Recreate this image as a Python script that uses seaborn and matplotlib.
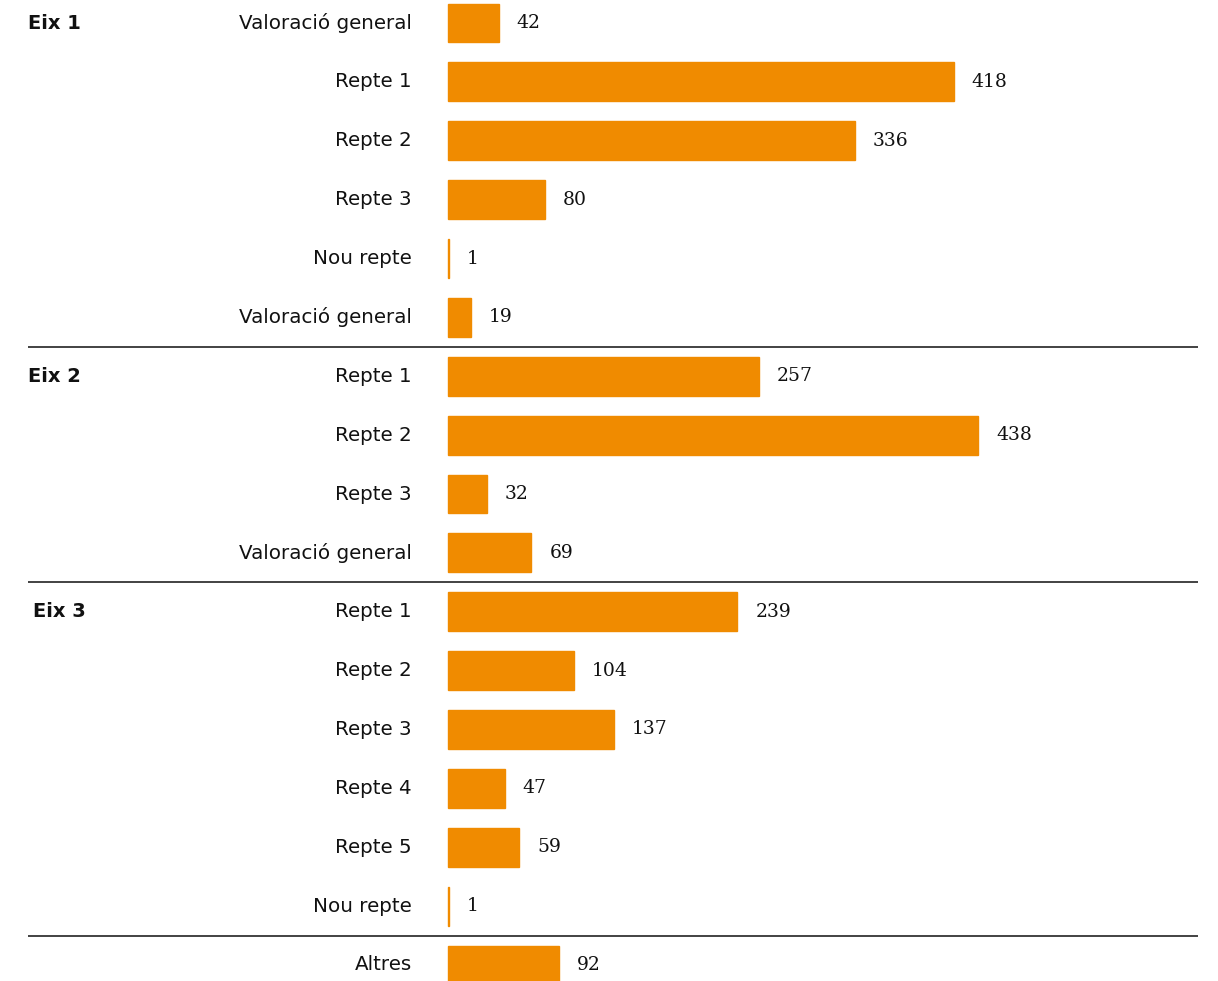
import matplotlib
matplotlib.use("Agg")
import matplotlib.pyplot as plt
import matplotlib.transforms as mtransforms
import seaborn as sns
import pandas as pd

categories = ["Valoració general", "Repte 1", "Repte 2", "Repte 3", "Nou repte",
              "Valoració general", "Repte 1", "Repte 2", "Repte 3",
              "Valoració general", "Repte 1", "Repte 2", "Repte 3", "Repte 4", "Repte 5", "Nou repte",
              "Altres"]
values = [42, 418, 336, 80, 1,
          19, 257, 438, 32,
          69, 239, 104, 137, 47, 59, 1,
          92]
group_labels = ["Eix 1", "Eix 2", "Eix 3"]
group_rows = [0, 6, 10]
separators_after = [5, 9, 15]

BAR = "#F08B00"

sns.set_theme(style="white")
plt.rcParams["font.family"] = ["DejaVu Sans"]

W, H = 1218, 981
fig = plt.figure(figsize=(W / 100, H / 100), dpi=100)
ax = fig.add_axes([0, 0, 1, 1])

rows = [str(i) for i in range(len(values))]
df = pd.DataFrame({"row": rows, "value": values})
sns.barplot(data=df, x="value", y="row", order=rows, orient="h",
            color=BAR, saturation=1, width=0.66, ax=ax,
            edgecolor=BAR, linewidth=1.0)

# scale: x=0 at 448 px, 438 -> ~979 px
ppu = (978 - 448) / 438.0
x0 = -448 / ppu
x1 = (W - 448) / ppu
ax.set_xlim(x0, x1)
n = len(values)
sp = (965 - 23) / (n - 1)
ax.set_ylim(n - 1 + (H - 965) / sp, -23 / sp)
ax.axis("off")

lab_tr = mtransforms.offset_copy(ax.transData, fig=fig, x=-36, y=0, units="dots")
val_tr = mtransforms.offset_copy(ax.transData, fig=fig, x=18, y=0, units="dots")
for i, (c, v) in enumerate(zip(categories, values)):
    ax.text(0, i, c, transform=lab_tr, ha="right", va="center",
            fontsize=14.3, color="#111111")
    ax.text(v, i, str(v), transform=val_tr, ha="left", va="center",
            fontsize=13.5, family="DejaVu Serif", color="#111111")

gtr = mtransforms.blended_transform_factory(ax.transAxes, ax.transData)
gx = [28, 28, 33]
for g, r, x in zip(group_labels, group_rows, gx):
    ax.text(x / W, r, g, transform=gtr, ha="left", va="center",
            fontsize=14, fontweight="bold", color="#111111")

for s in separators_after:
    ax.plot([28 / W, 1198 / W], [s + 0.5, s + 0.5], transform=gtr,
            color="#222222", lw=1.2, solid_capstyle="butt")

fig.savefig("out.png", dpi=100)
